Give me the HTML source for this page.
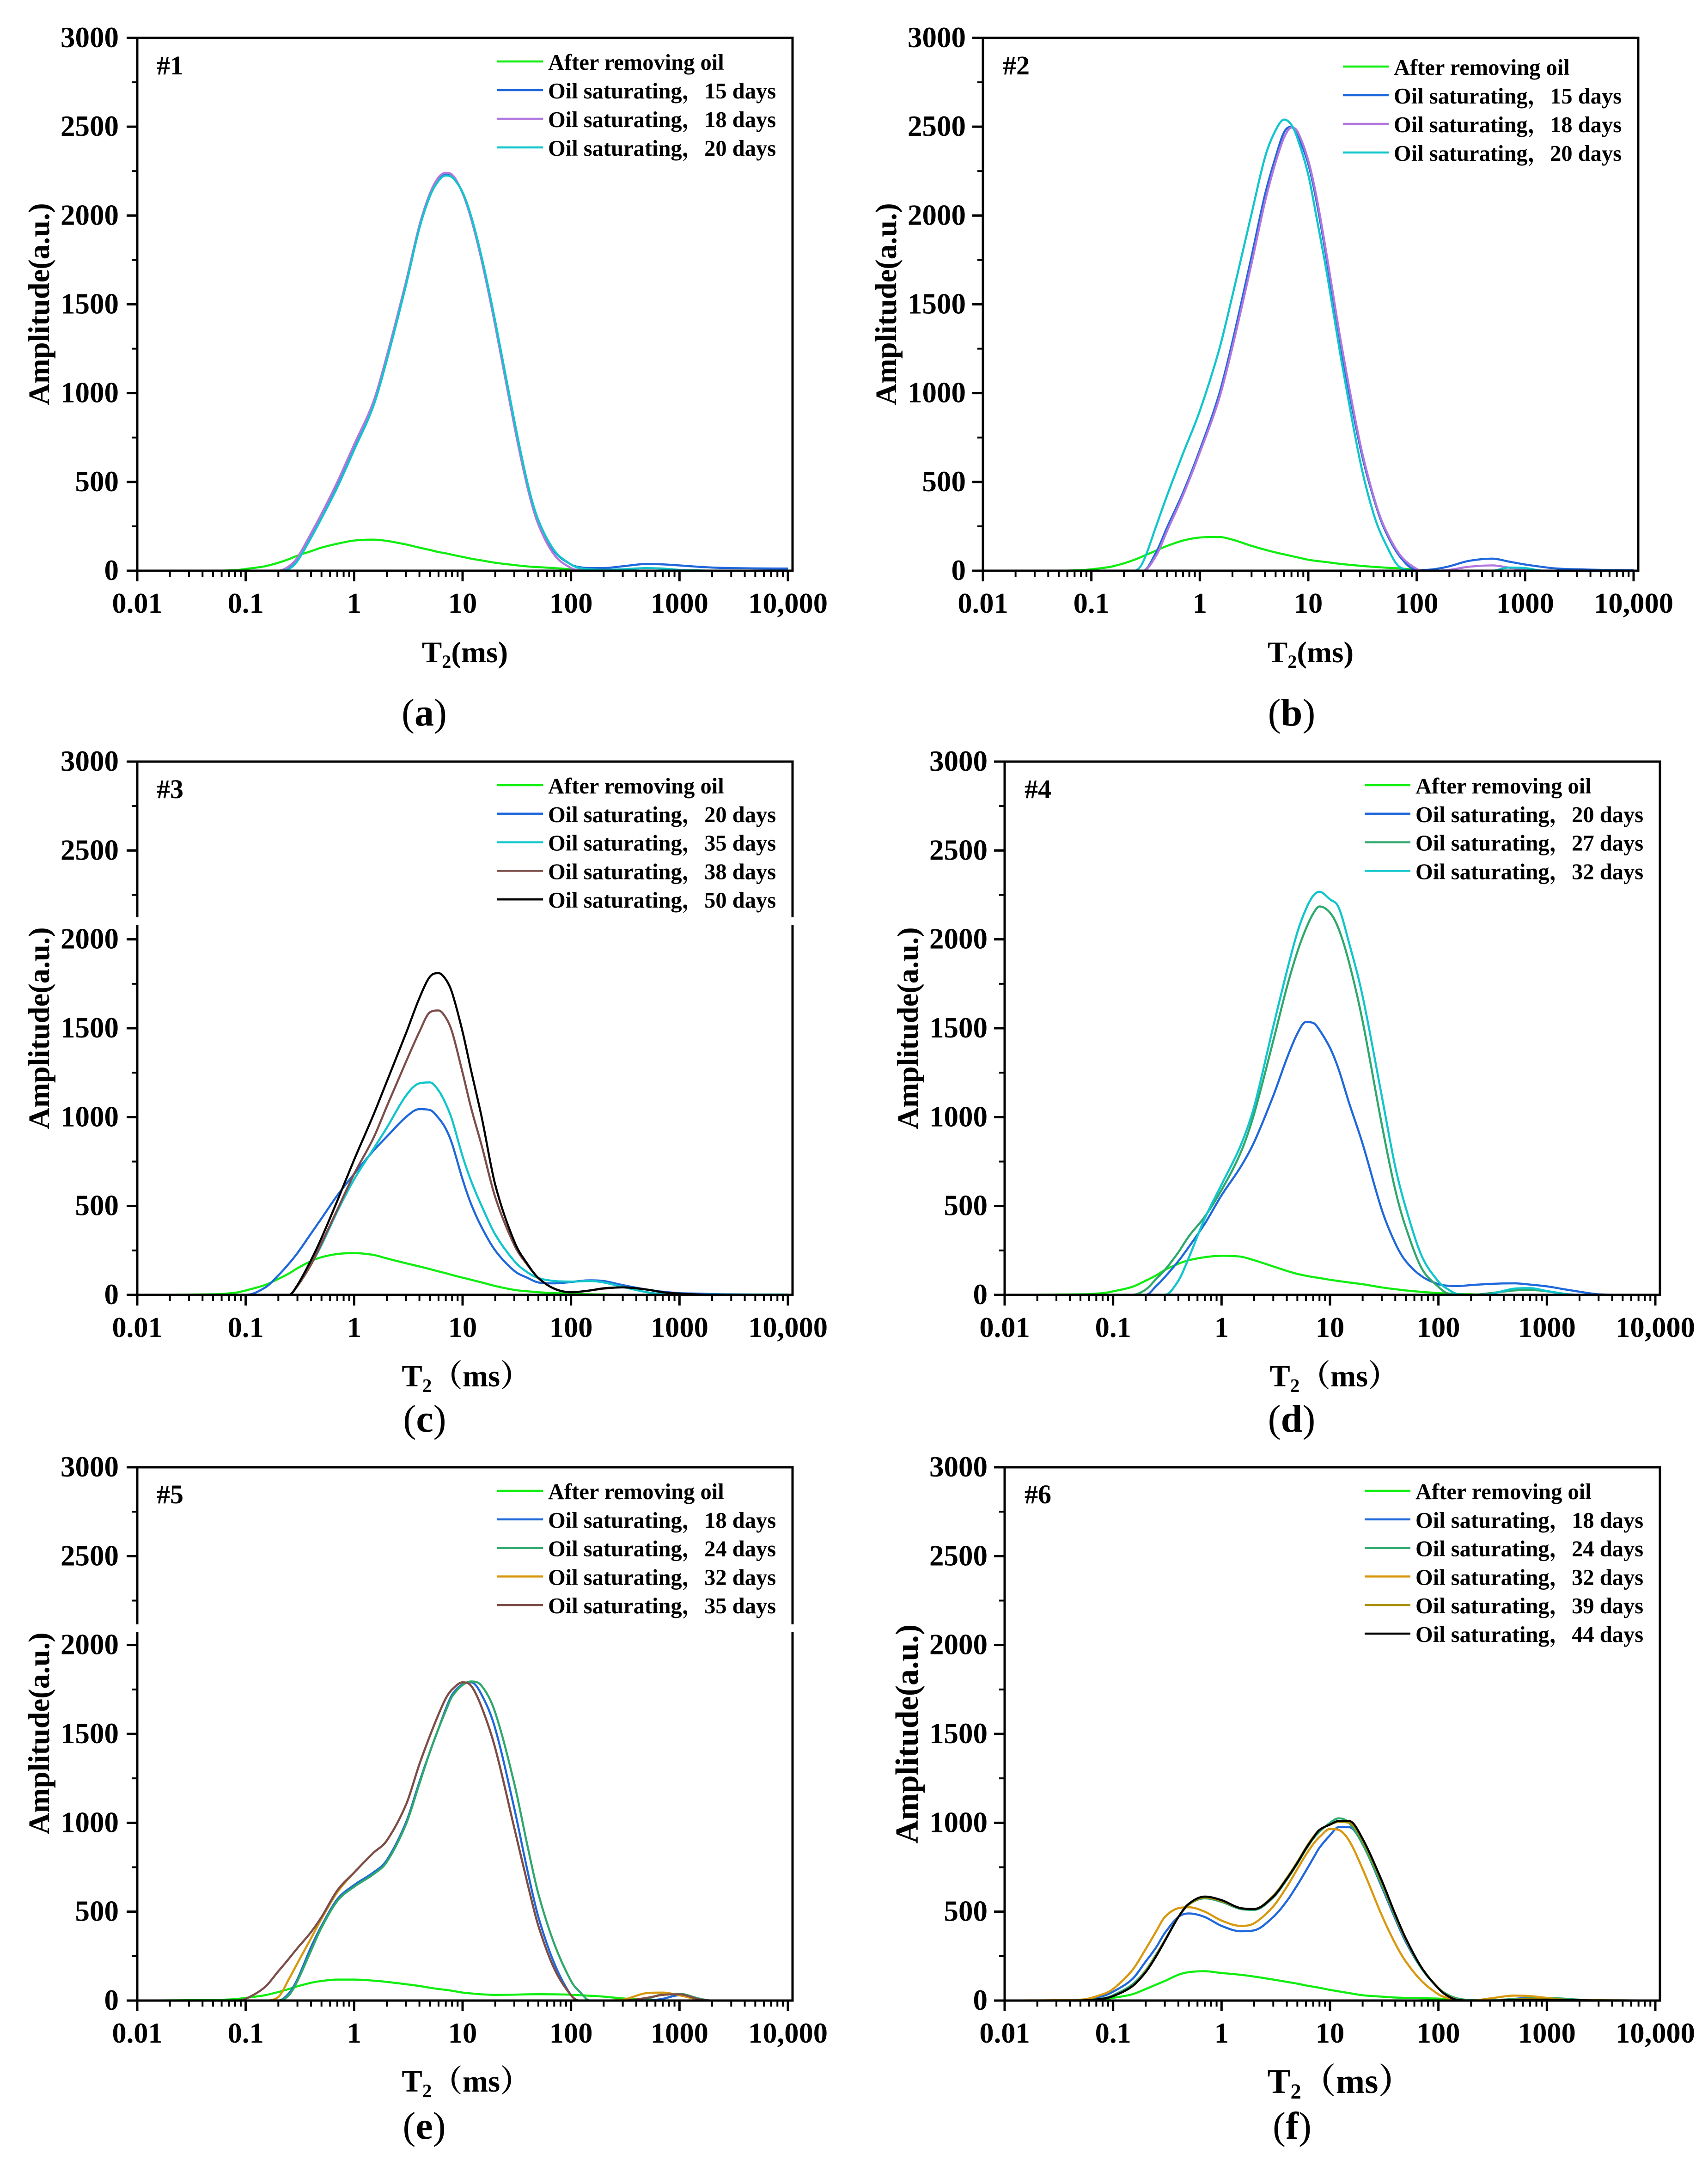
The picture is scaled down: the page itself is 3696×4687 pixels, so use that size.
<!DOCTYPE html>
<html lang="en">
<head>
<meta charset="utf-8">
<title>T2 spectra of oil saturating, panels a to f</title>
<style>
html,body{margin:0;padding:0;background:#fff;}
svg{display:block;}
text{font-family:"Liberation Serif","Noto Serif CJK SC",serif;font-weight:bold;fill:#000;}
</style>
</head>
<body>
<svg id="figure" xmlns="http://www.w3.org/2000/svg" width="3696" height="4687" viewBox="0 0 3696 4687"></svg>
<script>
// ---- shared axis data ----
const t2Values = [
  0.01,0.05,0.08,0.1,0.15,0.2,0.25,0.3,0.4,0.5,
  0.7,1,1.5,2,3,4,5,6,7,8,
  10,12,15,20,30,40,50,70,100,120,
  150,200,300,500,700,1000,1500,2000,3000,5000,10000
];
const xTickValues = [0.01,0.1,1,10,100,1000,10000];
const xTickLabels = ['0.01','0.1','1','10','100','1000','10,000'];
const yTickValues = [0,500,1000,1500,2000,2500,3000];
const yTickLabels = ['0','500','1000','1500','2000','2500','3000'];
const yMinorValues = [250,750,1250,1750,2250,2750];

// ---- panel #1 ----
const p1After = [
  0,0,3,10,25,45,65,85,110,130,
  152,170,175,168,148,130,117,105,98,90,
  78,68,58,45,32,24,20,15,8,5,
  3,1,0,0,0,0,0,0,0,0,0];
const p1Days15 = [
  0,0,0,0,0,0,15,60,190,300,
  480,690,930,1190,1610,1930,2110,2200,2230,2220,
  2130,1990,1760,1400,840,480,280,110,35,20,
  15,15,25,38,36,30,22,18,15,13,12];
const p1Days18 = [
  0,0,0,0,0,0,25,75,210,320,
  500,710,950,1210,1625,1945,2125,2215,2240,2230,
  2125,1980,1745,1380,815,460,260,90,15,3,
  0,0,0,0,0,0,0,0,0,0,0];
const p1Days20 = [
  0,0,0,0,0,0,10,55,185,295,
  470,680,925,1185,1605,1930,2110,2195,2225,2215,
  2130,1995,1765,1405,845,485,285,115,35,15,
  8,5,8,15,12,5,2,0,0,0,0];

// ---- panel #2 ----
const p2After = [
  0,0,3,8,22,42,62,82,115,140,
  170,187,190,175,140,118,103,92,83,75,
  62,55,48,38,28,22,18,13,5,3,
  1,0,0,0,0,0,0,0,0,0,0];
const p2Days15 = [
  0,0,0,0,0,0,0,0,110,245,
  440,680,990,1290,1770,2120,2330,2470,2500,2450,
  2290,2070,1730,1260,700,410,240,80,5,5,
  10,25,55,68,52,35,20,12,8,5,3];
const p2Days18 = [
  0,0,0,0,0,0,0,0,90,225,
  425,665,965,1260,1730,2080,2300,2440,2495,2470,
  2310,2095,1755,1290,720,420,250,90,10,0,
  0,5,22,30,18,5,0,0,0,0,0];
const p2Days20 = [
  0,0,0,0,0,0,0,50,260,425,
  660,900,1240,1550,2010,2330,2480,2540,2510,2430,
  2230,1980,1660,1200,620,320,170,20,0,0,
  0,0,0,0,18,15,0,0,0,0,0];

// ---- panel #3 ----
const p3After = [
  0,3,12,25,55,90,120,150,190,212,
  230,235,225,205,178,160,145,132,122,112,
  97,85,70,50,28,20,15,10,8,5,
  3,2,0,0,0,0,0,0,0,0,0];
const p3Days20 = [
  0,0,0,0,40,110,175,235,345,430,
  560,680,810,890,1000,1045,1040,995,935,850,
  650,510,380,250,135,95,70,65,72,78,
  82,78,55,30,18,10,7,5,3,2,2];
const p3Days35 = [
  0,0,0,0,0,0,0,50,170,280,
  470,650,820,940,1120,1190,1195,1150,1075,985,
  780,640,500,340,190,125,95,78,75,76,
  78,70,45,15,5,3,2,2,2,2,2];
const p3Days38 = [
  0,0,0,0,0,0,0,50,170,290,
  480,680,880,1060,1310,1480,1590,1600,1560,1480,
  1250,1050,840,550,280,165,95,35,15,18,
  25,35,42,30,15,7,2,0,0,0,0];
const p3Days50 = [
  0,0,0,0,0,0,0,55,195,320,
  530,760,1010,1200,1470,1670,1790,1810,1775,1700,
  1480,1260,1000,620,300,170,95,35,15,18,
  25,37,42,30,15,7,2,0,0,0,0];

// ---- panel #4 ----
const p4After = [
  0,3,10,20,45,80,110,140,175,195,
  212,220,215,195,160,135,118,108,100,95,
  85,78,70,60,42,32,25,17,10,8,
  5,3,0,0,0,0,0,0,0,0,0];
const p4Days20 = [
  0,0,0,0,0,0,50,100,190,270,
  400,560,720,860,1120,1330,1470,1535,1530,1490,
  1390,1270,1080,850,480,290,190,105,60,52,
  50,55,62,65,58,48,30,18,3,0,0];
const p4Days27 = [
  0,0,0,0,0,30,90,140,240,330,
  440,590,800,1020,1430,1730,1930,2060,2145,2185,
  2150,2060,1870,1540,960,590,380,150,45,10,
  0,0,10,25,28,20,5,0,0,0,0];
const p4Days32 = [
  0,0,0,0,0,0,0,0,80,210,
  430,620,840,1060,1510,1820,2040,2170,2245,2268,
  2225,2180,1980,1680,1120,720,490,220,75,35,
  5,0,5,35,38,22,5,0,0,0,0];

// ---- panel #5 ----
const p5After = [
  0,3,8,15,30,48,65,80,100,110,
  118,118,112,105,92,82,72,65,60,55,
  45,40,35,32,33,35,36,35,33,30,
  27,22,12,3,0,0,0,0,0,0,0];
const p5Days18 = [
  0,0,0,0,0,0,40,120,300,420,
  570,650,720,790,1000,1230,1400,1530,1640,1720,
  1780,1790,1720,1530,1080,720,470,210,30,0,
  0,0,0,0,10,30,8,0,0,0,0];
const p5Days24 = [
  0,0,0,0,0,0,30,110,280,410,
  560,640,710,780,990,1220,1400,1530,1630,1710,
  1775,1795,1770,1620,1220,860,600,320,110,50,
  0,0,0,10,35,38,12,0,0,0,0];
const p5Days32 = [
  0,0,0,0,0,20,120,210,350,460,
  610,720,830,900,1100,1330,1490,1610,1700,1750,
  1790,1770,1650,1420,970,650,420,180,30,0,
  0,0,5,42,45,30,5,0,0,0,0];
const p5Days35 = [
  0,0,0,10,75,165,235,295,385,470,
  620,720,830,900,1100,1330,1490,1610,1700,1750,
  1790,1770,1650,1420,970,650,420,180,30,0,
  0,0,0,15,32,35,8,0,0,0,0];

// ---- panel #6 ----
const p6After = [
  0,0,5,15,35,65,90,110,145,160,
  165,155,145,135,118,105,95,85,78,72,
  60,52,42,30,22,17,15,13,11,8,
  5,2,0,0,0,0,0,0,0,0,0];
const p6Days18 = [
  0,3,25,50,120,220,300,380,470,490,
  470,420,390,395,470,560,650,730,800,860,
  930,975,975,880,640,460,330,180,70,35,
  10,3,0,10,15,15,5,2,0,0,0];
const p6Days24 = [
  0,1,12,30,90,170,260,340,470,540,
  575,555,515,510,580,680,770,850,910,950,
  1000,1025,1000,880,650,470,340,180,70,35,
  12,3,3,8,12,15,10,5,2,0,0];
const p6Days32 = [
  0,5,35,65,170,290,390,470,520,525,
  500,450,420,435,530,640,740,820,880,920,
  965,960,900,740,480,320,220,110,35,15,
  3,0,12,28,25,15,3,0,0,0,0];
const p6Days39 = [
  0,1,10,25,80,165,255,340,470,540,
  580,560,520,515,590,690,780,860,920,960,
  990,1005,1000,900,665,480,345,185,70,30,
  5,0,0,5,8,8,5,3,2,1,0];
const p6Days44 = [
  0,1,10,25,80,160,250,335,470,545,
  585,565,520,515,585,685,775,855,915,960,
  990,1010,1010,910,675,485,350,185,68,28,
  3,0,0,3,5,5,3,2,1,1,0];

// ---- series tables ----
const colGreen = '#10ee10', colBlue = '#1f68dc', colPurple = '#b277de', colCyan = '#10c6cc';
const colBrown = '#7d4d4a', colBlack = '#000000', colSea = '#2fa86c', colOrange = '#d8980e', colOlive = '#a89200';

const panelSeries = [
  [['After removing oil',p1After,colGreen],['Oil saturating，15 days',p1Days15,colBlue],['Oil saturating，18 days',p1Days18,colPurple],['Oil saturating，20 days',p1Days20,colCyan]],
  [['After removing oil',p2After,colGreen],['Oil saturating，15 days',p2Days15,colBlue],['Oil saturating，18 days',p2Days18,colPurple],['Oil saturating，20 days',p2Days20,colCyan]],
  [['After removing oil',p3After,colGreen],['Oil saturating，20 days',p3Days20,colBlue],['Oil saturating，35 days',p3Days35,colCyan],['Oil saturating，38 days',p3Days38,colBrown],['Oil saturating，50 days',p3Days50,colBlack]],
  [['After removing oil',p4After,colGreen],['Oil saturating，20 days',p4Days20,colBlue],['Oil saturating，27 days',p4Days27,colSea],['Oil saturating，32 days',p4Days32,colCyan]],
  [['After removing oil',p5After,colGreen],['Oil saturating，18 days',p5Days18,colBlue],['Oil saturating，24 days',p5Days24,colSea],['Oil saturating，32 days',p5Days32,colOrange],['Oil saturating，35 days',p5Days35,colBrown]],
  [['After removing oil',p6After,colGreen],['Oil saturating，18 days',p6Days18,colBlue],['Oil saturating，24 days',p6Days24,colSea],['Oil saturating，32 days',p6Days32,colOrange],['Oil saturating，39 days',p6Days39,colOlive],['Oil saturating，44 days',p6Days44,colBlack]]
];

// ---- layout ----
const panelLayout = [
  {tag:'#1',letter:'a',left:297,right:1715,top:82,bottom:1235,tagX:339,tagY:161,legLine:1076,legText:1186,legTop:133,legStep:62,
   yLabelX:106,yLabelY:658,yLabelSize:64.5,tickGap:40,titleKind:'plain',titleX:1006,titleY:1433,titleSize:65,capX:918,capY:1570,gapY:null},
  {tag:'#2',letter:'b',left:2127,right:3545,top:82,bottom:1235,tagX:2170,tagY:161,legLine:2906,legText:3016,legTop:144,legStep:62,
   yLabelX:1939,yLabelY:658,yLabelSize:64.5,tickGap:37,titleKind:'plain',titleX:2836,titleY:1433,titleSize:65,capX:2795,capY:1570,gapY:null},
  {tag:'#3',letter:'c',left:297,right:1715,top:1648,bottom:2802,tagX:339,tagY:1727,legLine:1076,legText:1186,legTop:1699,legStep:61.8,
   yLabelX:106,yLabelY:2225,yLabelSize:64.5,tickGap:40,titleKind:'wide',titleX:1009,titleY:3000,titleSize:66.5,capX:919,capY:3098,gapY:1985},
  {tag:'#4',letter:'d',left:2174,right:3592,top:1648,bottom:2802,tagX:2217,tagY:1727,legLine:2953,legText:3063,legTop:1699,legStep:61.8,
   yLabelX:1986,yLabelY:2225,yLabelSize:64.5,tickGap:37,titleKind:'wide',titleX:2887,titleY:3000,titleSize:66.5,capX:2795,capY:3098,gapY:null},
  {tag:'#5',letter:'e',left:297,right:1715,top:3175,bottom:4329,tagX:339,tagY:3253,legLine:1076,legText:1186,legTop:3226,legStep:61.8,
   yLabelX:106,yLabelY:3751,yLabelSize:64.5,tickGap:40,titleKind:'wide',titleX:1009,titleY:4526,titleSize:66.5,capX:918,capY:4628,gapY:3515},
  {tag:'#6',letter:'f',left:2174,right:3592,top:3175,bottom:4329,tagX:2217,tagY:3253,legLine:2953,legText:3063,legTop:3226,legStep:61.8,
   yLabelX:1986,yLabelY:3752,yLabelSize:70,tickGap:37,titleKind:'wide',titleX:2900,titleY:4529,titleSize:75,capX:2796,capY:4628,gapY:null}
];

const SVG_NS = 'http://www.w3.org/2000/svg';
const figure = document.getElementById('figure');

function make(tag, parent, attrs, text) {
  const el = document.createElementNS(SVG_NS, tag);
  for (const k in attrs) el.setAttribute(k, attrs[k]);
  if (text !== undefined) el.textContent = text;
  parent.appendChild(el);
  return el;
}

// axis functions: x is log10 over 0.01..10000, ending 10px inside the right frame
function xScale(p, t) {
  const plotRight = p.right - 10;
  return p.left + (Math.log10(t) + 2) / 6 * (plotRight - p.left);
}
function yScale(p, v) {
  return p.bottom - v / 3000 * (p.bottom - p.top);
}

// smooth cubic path through pixel points, with slopes limited so it stays monotone between points
function curvePath(xs, ys) {
  const n = xs.length;
  const d = [], m = new Array(n);
  for (let i = 0; i < n - 1; i++) d.push((ys[i + 1] - ys[i]) / (xs[i + 1] - xs[i]));
  m[0] = d[0];
  m[n - 1] = d[n - 2];
  for (let i = 1; i < n - 1; i++) {
    if (d[i - 1] * d[i] <= 0) { m[i] = 0; continue; }
    const central = (ys[i + 1] - ys[i - 1]) / (xs[i + 1] - xs[i - 1]);
    const limit = 3 * Math.min(Math.abs(d[i - 1]), Math.abs(d[i]));
    m[i] = Math.sign(central) * Math.min(Math.abs(central), limit);
  }
  let out = 'M' + xs[0].toFixed(1) + ' ' + ys[0].toFixed(1);
  for (let i = 0; i < n - 1; i++) {
    const h = (xs[i + 1] - xs[i]) / 3;
    out += 'C' + (xs[i] + h).toFixed(1) + ' ' + (ys[i] + m[i] * h).toFixed(1) + ' ' +
      (xs[i + 1] - h).toFixed(1) + ' ' + (ys[i + 1] - m[i + 1] * h).toFixed(1) + ' ' +
      xs[i + 1].toFixed(1) + ' ' + ys[i + 1].toFixed(1);
  }
  return out;
}

panelLayout.forEach(function (p, pi) {
  const g = make('g', figure, {});
  
  

  // series curves
  panelSeries[pi].forEach(function (s, si) {
    const xs = t2Values.map(function (t) { return xScale(p, t); });
    const ys = s[1].map(function (v) { return yScale(p, v); });
    const path = make('path', g, {d: curvePath(xs, ys), fill: 'none', stroke: s[2], 'stroke-width': 4.5, 'stroke-linejoin': 'round'});
    
    
  });

  // frame
  const frame = make('rect', g, {x: p.left, y: p.top, width: p.right - p.left, height: p.bottom - p.top, fill: 'none', stroke: '#000', 'stroke-width': 5});
  
  

  // white break in the frame seen in panels c and e
  if (p.gapY !== null) {
    [p.left, p.right].forEach(function (fx) {
      const gap = make('rect', g, {x: fx - 7, y: p.gapY, width: 14, height: 16, fill: '#fff'});
      
      
    });
  }

  // y ticks
  yTickValues.forEach(function (v, i) {
    const y = yScale(p, v);
    const tick = make('line', g, {x1: p.left, x2: p.left - 23, y1: y, y2: y, stroke: '#000', 'stroke-width': 5});
    
    
    const label = make('text', g, {x: p.left - p.tickGap, y: y + 20, 'text-anchor': 'end', 'font-size': 63}, yTickLabels[i]);
    
    
  });
  yMinorValues.forEach(function (v) {
    const y = yScale(p, v);
    const tick = make('line', g, {x1: p.left, x2: p.left - 12, y1: y, y2: y, stroke: '#000', 'stroke-width': 4});
    
    
  });

  // x ticks
  xTickValues.forEach(function (t, i) {
    const x = xScale(p, t);
    const tick = make('line', g, {x1: x, x2: x, y1: p.bottom, y2: p.bottom + 23, stroke: '#000', 'stroke-width': 5});
    
    
    const label = make('text', g, {x: x, y: p.bottom + 91, 'text-anchor': 'middle', 'font-size': 62.5}, xTickLabels[i]);
    
    
    if (i < xTickValues.length - 1) {
      for (let k = 2; k <= 9; k++) {
        const mx = xScale(p, t * k);
        const minor = make('line', g, {x1: mx, x2: mx, y1: p.bottom, y2: p.bottom + 13, stroke: '#000', 'stroke-width': 4});
        
        
      }
    }
  });

  // y axis title
  const yTitle = make('text', g, {transform: 'translate(' + p.yLabelX + ' ' + p.yLabelY + ') rotate(-90)', 'text-anchor': 'middle', 'font-size': p.yLabelSize}, 'Amplitude(a.u.)');
  
  

  // x axis title
  const xTitle = make('text', g, {x: p.titleX, y: p.titleY, 'text-anchor': 'middle', 'font-size': p.titleSize});
  
  
  make('tspan', xTitle, {}, 'T');
  make('tspan', xTitle, {'font-size': p.titleSize * 0.62, dy: 12}, '2');
  make('tspan', xTitle, {dy: -12}, p.titleKind === 'plain' ? '(ms)' : '（ms）');

  // panel tag
  const tag = make('text', g, {x: p.tagX, y: p.tagY, 'font-size': 58}, p.tag);
  
  

  // legend
  panelSeries[pi].forEach(function (s, si) {
    const ly = p.legTop + si * p.legStep;
    const swatch = make('line', g, {x1: p.legLine, x2: p.legLine + 99, y1: ly, y2: ly, stroke: s[2], 'stroke-width': 4.5});
    
    
    const entry = make('text', g, {x: p.legText, y: ly + 18, 'font-size': 48.5}, s[0]);
    
    
  });

  // caption
  const cap = make('text', g, {x: p.capX, y: p.capY, 'text-anchor': 'middle', 'font-size': 84, style: 'font-weight:normal'});
  
  
  make('tspan', cap, {}, '(');
  make('tspan', cap, {style: 'font-weight:bold'}, p.letter);
  make('tspan', cap, {}, ')');
});
</script>
</body>
</html>
